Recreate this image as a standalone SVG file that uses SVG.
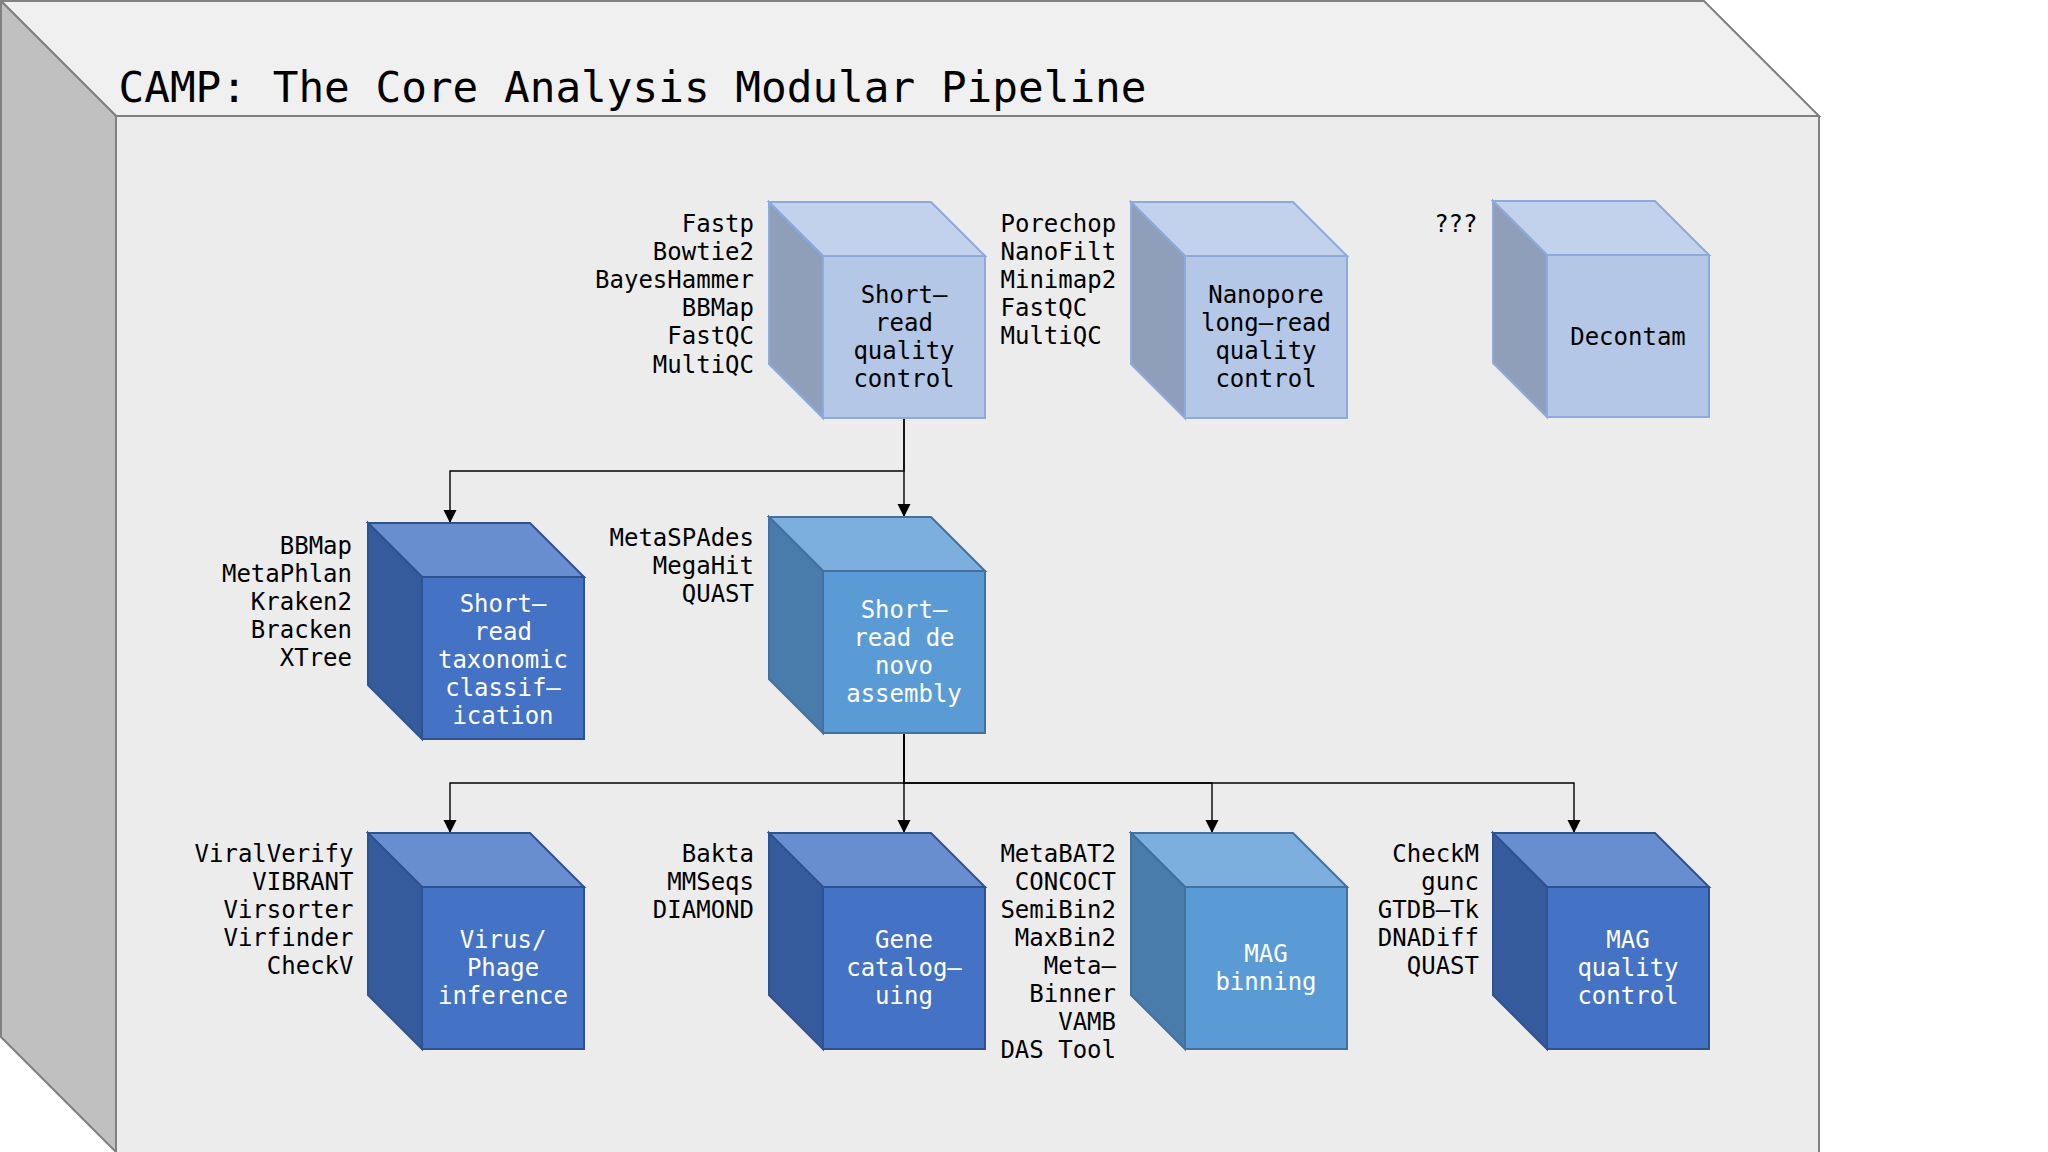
<svg xmlns="http://www.w3.org/2000/svg" width="2048" height="1152" viewBox="0 0 2048 1152">
<defs>
<style>
text{font-family:"DejaVu Sans Mono","Liberation Mono",monospace;font-size:24px;fill:#000}
.title{font-size:42.7px}
.r{text-anchor:end}
.c{text-anchor:middle}
.w{fill:#fff}
.conn{fill:none;stroke:#000;stroke-width:1.4}
.lf{fill:#B4C7E7;stroke:#8EAADB;stroke-width:2}
.lt{fill:#C3D2EC;stroke:#8EAADB;stroke-width:2}
.ls{fill:#909FB9;stroke:#8EAADB;stroke-width:2}
.df{fill:#4472C4;stroke:#2F528F;stroke-width:2}
.dt{fill:#698ED0;stroke:#2F528F;stroke-width:2}
.ds{fill:#365B9D;stroke:#2F528F;stroke-width:2}
.mf{fill:#5B9BD5;stroke:#41719C;stroke-width:2}
.mt{fill:#7CAFDD;stroke:#41719C;stroke-width:2}
.ms{fill:#497CAA;stroke:#41719C;stroke-width:2}
</style>
<marker id="arr" markerUnits="userSpaceOnUse" markerWidth="14" markerHeight="14" refX="13" refY="6.5" orient="auto">
<path d="M0,0 L13,6.5 L0,13 z" fill="#000"/>
</marker>
</defs>
<rect width="2048" height="1152" fill="#fff"/>
<g id="frame">
<polygon points="1,1 1704,1 1819,116 116,116" fill="#F0F0F0" stroke="#808080" stroke-width="2"/>
<polygon points="1,1 116,116 116,1152 1,1037" fill="#C0C0C0" stroke="#808080" stroke-width="2"/>
<rect x="116" y="116" width="1703" height="1040" fill="#ECECEC" stroke="#808080" stroke-width="2"/>
<text class="title" x="118.5" y="102">CAMP: The Core Analysis Modular Pipeline</text>
</g>
<g id="connectors">
<path class="conn" d="M904 418 V471 H450 V523" marker-end="url(#arr)"/>
<path class="conn" d="M904 418 V517" marker-end="url(#arr)"/>
<path class="conn" d="M904 733 V783 H450 V833" marker-end="url(#arr)"/>
<path class="conn" d="M904 733 V833" marker-end="url(#arr)"/>
<path class="conn" d="M904 733 V783 H1212 V833" marker-end="url(#arr)"/>
<path class="conn" d="M904 733 V783 H1574 V833" marker-end="url(#arr)"/>
</g>
<g id="short-read-qc">
<polygon class="lt" points="769,202 931,202 985,256 823,256"/>
<polygon class="ls" points="769,202 823,256 823,418 769,364"/>
<rect class="lf" x="823" y="256" width="162" height="162"/>
<text class="c" x="904" y="302.5">Short–</text>
<text class="c" x="904" y="330.5">read</text>
<text class="c" x="904" y="358.5">quality</text>
<text class="c" x="904" y="386.5">control</text>
<text class="r" x="754" y="231.5">Fastp</text>
<text class="r" x="754" y="259.7">Bowtie2</text>
<text class="r" x="754" y="287.9">BayesHammer</text>
<text class="r" x="754" y="316.1">BBMap</text>
<text class="r" x="754" y="344.3">FastQC</text>
<text class="r" x="754" y="372.5">MultiQC</text>
</g>
<g id="nanopore-qc">
<polygon class="lt" points="1131,202 1293,202 1347,256 1185,256"/>
<polygon class="ls" points="1131,202 1185,256 1185,418 1131,364"/>
<rect class="lf" x="1185" y="256" width="162" height="162"/>
<text class="c" x="1266" y="302.5">Nanopore</text>
<text class="c" x="1266" y="330.5">long–read</text>
<text class="c" x="1266" y="358.5">quality</text>
<text class="c" x="1266" y="386.5">control</text>
<text x="1000.5" y="231.5">Porechop</text>
<text x="1000.5" y="259.7">NanoFilt</text>
<text x="1000.5" y="287.9">Minimap2</text>
<text x="1000.5" y="316.1">FastQC</text>
<text x="1000.5" y="344.3">MultiQC</text>
</g>
<g id="decontam">
<polygon class="lt" points="1493,201 1655,201 1709,255 1547,255"/>
<polygon class="ls" points="1493,201 1547,255 1547,417 1493,363"/>
<rect class="lf" x="1547" y="255" width="162" height="162"/>
<text class="c" x="1628" y="345">Decontam</text>
<text class="r" x="1477.5" y="231.5">???</text>
</g>
<g id="taxonomic-classification">
<polygon class="dt" points="368,523 530,523 584,577 422,577"/>
<polygon class="ds" points="368,523 422,577 422,739 368,685"/>
<rect class="df" x="422" y="577" width="162" height="162"/>
<text class="c w" x="503" y="611.5">Short–</text>
<text class="c w" x="503" y="639.5">read</text>
<text class="c w" x="503" y="667.5">taxonomic</text>
<text class="c w" x="503" y="695.5">classif–</text>
<text class="c w" x="503" y="723.5">ication</text>
<text class="r" x="352" y="554">BBMap</text>
<text class="r" x="352" y="582">MetaPhlan</text>
<text class="r" x="352" y="610">Kraken2</text>
<text class="r" x="352" y="638">Bracken</text>
<text class="r" x="352" y="666">XTree</text>
</g>
<g id="de-novo-assembly">
<polygon class="mt" points="769,517 931,517 985,571 823,571"/>
<polygon class="ms" points="769,517 823,571 823,733 769,679"/>
<rect class="mf" x="823" y="571" width="162" height="162"/>
<text class="c w" x="904" y="618">Short–</text>
<text class="c w" x="904" y="646">read de</text>
<text class="c w" x="904" y="674">novo</text>
<text class="c w" x="904" y="702">assembly</text>
<text class="r" x="754" y="545.5">MetaSPAdes</text>
<text class="r" x="754" y="573.7">MegaHit</text>
<text class="r" x="754" y="601.9">QUAST</text>
</g>
<g id="virus-phage-inference">
<polygon class="dt" points="368,833 530,833 584,887 422,887"/>
<polygon class="ds" points="368,833 422,887 422,1049 368,995"/>
<rect class="df" x="422" y="887" width="162" height="162"/>
<text class="c w" x="503" y="948">Virus/</text>
<text class="c w" x="503" y="976">Phage</text>
<text class="c w" x="503" y="1004">inference</text>
<text class="r" x="353.5" y="861.7">ViralVerify</text>
<text class="r" x="353.5" y="889.7">VIBRANT</text>
<text class="r" x="353.5" y="917.7">Virsorter</text>
<text class="r" x="353.5" y="945.7">Virfinder</text>
<text class="r" x="353.5" y="973.7">CheckV</text>
</g>
<g id="gene-cataloguing">
<polygon class="dt" points="769,833 931,833 985,887 823,887"/>
<polygon class="ds" points="769,833 823,887 823,1049 769,995"/>
<rect class="df" x="823" y="887" width="162" height="162"/>
<text class="c w" x="904" y="948">Gene</text>
<text class="c w" x="904" y="976">catalog–</text>
<text class="c w" x="904" y="1004">uing</text>
<text class="r" x="754" y="861.7">Bakta</text>
<text class="r" x="754" y="889.7">MMSeqs</text>
<text class="r" x="754" y="917.7">DIAMOND</text>
</g>
<g id="mag-binning">
<polygon class="mt" points="1131,833 1293,833 1347,887 1185,887"/>
<polygon class="ms" points="1131,833 1185,887 1185,1049 1131,995"/>
<rect class="mf" x="1185" y="887" width="162" height="162"/>
<text class="c w" x="1266" y="962">MAG</text>
<text class="c w" x="1266" y="990">binning</text>
<text class="r" x="1116" y="861.7">MetaBAT2</text>
<text class="r" x="1116" y="889.7">CONCOCT</text>
<text class="r" x="1116" y="917.7">SemiBin2</text>
<text class="r" x="1116" y="945.7">MaxBin2</text>
<text class="r" x="1116" y="973.7">Meta–</text>
<text class="r" x="1116" y="1001.7">Binner</text>
<text class="r" x="1116" y="1029.7">VAMB</text>
<text class="r" x="1116" y="1057.7">DAS Tool</text>
</g>
<g id="mag-quality-control">
<polygon class="dt" points="1493,833 1655,833 1709,887 1547,887"/>
<polygon class="ds" points="1493,833 1547,887 1547,1049 1493,995"/>
<rect class="df" x="1547" y="887" width="162" height="162"/>
<text class="c w" x="1628" y="948">MAG</text>
<text class="c w" x="1628" y="976">quality</text>
<text class="c w" x="1628" y="1004">control</text>
<text class="r" x="1479" y="861.7">CheckM</text>
<text class="r" x="1479" y="889.7">gunc</text>
<text class="r" x="1479" y="917.7">GTDB–Tk</text>
<text class="r" x="1479" y="945.7">DNADiff</text>
<text class="r" x="1479" y="973.7">QUAST</text>
</g>
</svg>
